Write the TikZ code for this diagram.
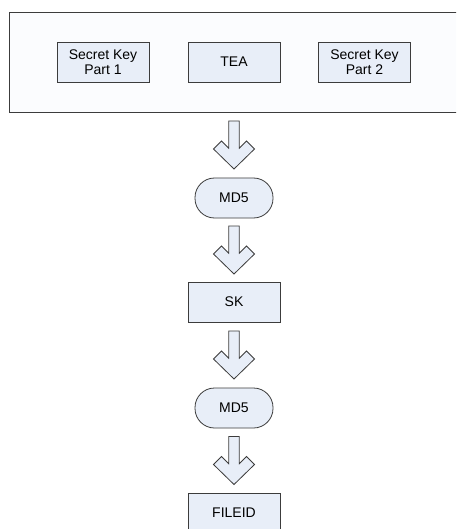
\documentclass[tikz,border=0pt]{standalone}
\usepackage{fontspec}
\setmainfont{Liberation Sans}
\usetikzlibrary{calc}
\definecolor{boxfill}{RGB}{232,238,248}
\definecolor{boxline}{RGB}{60,60,60}
\definecolor{panelfill}{RGB}{251,252,254}
\newcommand\blockarr[3]{%
  \coordinate (#3m) at ($(#1.south)!0.5!(#2.north)$);
  \coordinate (#3) at (#2.north |- #3m);
  \draw[blockarrow, shift={(#3)}] (-5.25,-24) -- (-5.25,3.25) -- (-12.5,-4) -- (-20.5,4) -- (0,24)
     -- (20.5,4) -- (12.5,-4) -- (5.25,3.25) -- (5.25,-24) -- cycle;
}
\begin{document}
\begin{tikzpicture}[x=1pt,y=-1pt,
  every node/.style={font=\fontsize{14}{15}\selectfont, align=center, inner sep=0pt},
  keybox/.style={draw=boxline, fill=boxfill, line width=0.8pt, minimum width=92pt, minimum height=40pt},
  procbox/.style={draw=boxline, fill=boxfill, line width=0.8pt, minimum width=78pt, minimum height=40pt, rounded corners=19.5pt},
  panel/.style={draw=boxline, fill=panelfill, line width=0.8pt, minimum width=470pt, minimum height=100pt},
  blockarrow/.style={draw=boxline, fill=boxfill, line width=0.8pt, line join=miter}]
\useasboundingbox (0,0) rectangle (456,529);
\clip (0,0) rectangle (456,529);
\fill[white] (0,0) rectangle (456,529);
\node[panel] (panel) at (244,62) {};
\node[keybox] (key1) at (103,62) {Secret Key\\Part 1};
\node[keybox] (tea) at (234,62) {TEA};
\node[keybox] (key2) at (364.5,62) {Secret Key\\Part 2};
\node[procbox] (md5a) at (234,198) {MD5};
\node[keybox] (sk) at (234,302) {SK};
\node[procbox] (md5b) at (234,408) {MD5};
\node[keybox] (fileid) at (234,513) {FILEID};
\blockarr{panel}{md5a}{a1}
\blockarr{md5a}{sk}{a2}
\blockarr{sk}{md5b}{a3}
\blockarr{md5b}{fileid}{a4}
\end{tikzpicture}
\end{document}
